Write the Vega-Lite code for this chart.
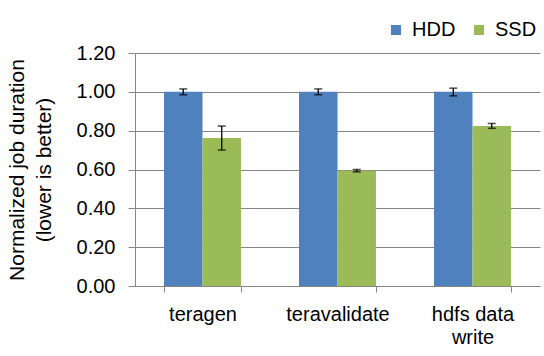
{
  "$schema": "https://vega.github.io/schema/vega-lite/v6.json",
  "autosize": {"type": "none"},
  "width": 405,
  "height": 233,
  "padding": {"left": 135, "top": 53, "right": 4, "bottom": 70},
  "background": "white",
  "config": {
    "font": "Liberation Sans",
    "view": {"stroke": null},
    "axis": {"labelFont": "Liberation Sans", "titleFont": "Liberation Sans", "labelColor": "black", "titleColor": "black"},
    "axisY": {
      "values": [0, 0.2, 0.4, 0.6, 0.8, 1.0, 1.2], "format": ".2f", "labelOverlap": false,
      "titleFontSize": 21, "titleFontWeight": "normal", "titleLineHeight": 27, "titlePadding": 22,
      "labelFontSize": 20, "labelPadding": 13,
      "domainColor": "#868686", "tickColor": "#868686", "tickSize": 7,
      "grid": true, "gridColor": "#868686", "gridWidth": 1
    }
  },
  "data": {
    "values": [
      {"task": "teragen", "disk": "HDD", "value": 1.0, "lo": 0.985, "hi": 1.015},
      {"task": "teragen", "disk": "SSD", "value": 0.762, "lo": 0.70, "hi": 0.824},
      {"task": "teravalidate", "disk": "HDD", "value": 1.0, "lo": 0.985, "hi": 1.015},
      {"task": "teravalidate", "disk": "SSD", "value": 0.594, "lo": 0.588, "hi": 0.600},
      {"task": "hdfs data write", "disk": "HDD", "value": 1.0, "lo": 0.979, "hi": 1.019},
      {"task": "hdfs data write", "disk": "SSD", "value": 0.824, "lo": 0.812, "hi": 0.837}
    ]
  },
  "encoding": {
    "x": {
      "field": "task", "type": "nominal", "sort": null,
      "scale": {"paddingInner": 0.43, "paddingOuter": 0.215},
      "axis": {
        "title": null, "labelAngle": 0, "labelFontSize": 20, "labelPadding": 12,
        "labelLineHeight": 23,
        "labelExpr": "datum.value == 'hdfs data write' ? ['hdfs data', 'write'] : datum.label",
        "domainColor": "#868686", "tickColor": "#868686", "tickSize": 6, "tickBand": "extent",
        "grid": false
      }
    },
    "xOffset": {"field": "disk", "type": "nominal", "sort": ["HDD", "SSD"], "scale": {"paddingInner": 0, "paddingOuter": 0}}
  },
  "layer": [
    {
      "mark": {"type": "bar"},
      "encoding": {
        "y": {
          "field": "value", "type": "quantitative",
          "scale": {"domain": [0, 1.2], "nice": false},
          "axis": {"title": ["Normalized job duration", "(lower is better)"], "values": [0, 0.2, 0.4, 0.6, 0.8, 1.0, 1.2]}
        },
        "color": {
          "field": "disk", "type": "nominal",
          "scale": {"domain": ["HDD", "SSD"], "range": ["#4F81BD", "#9BBB59"]},
          "legend": {
            "title": null, "orient": "none", "direction": "horizontal",
            "legendX": 251, "legendY": -33,
            "symbolType": "square", "symbolSize": 100, "symbolStrokeWidth": 0,
            "labelFontSize": 20, "labelOffset": 6, "columnPadding": 13, "labelColor": "black"
          }
        }
      }
    },
    {
      "mark": {"type": "rule", "color": "black", "strokeWidth": 1.3},
      "encoding": {"y": {"field": "lo", "type": "quantitative", "axis": {"title": ["Normalized job duration", "(lower is better)"], "values": [0, 0.2, 0.4, 0.6, 0.8, 1.0, 1.2]}}, "y2": {"field": "hi"}}
    },
    {
      "mark": {"type": "tick", "color": "black", "size": 8, "thickness": 1.5},
      "encoding": {"y": {"field": "lo", "type": "quantitative", "axis": {"title": ["Normalized job duration", "(lower is better)"], "values": [0, 0.2, 0.4, 0.6, 0.8, 1.0, 1.2]}}}
    },
    {
      "mark": {"type": "tick", "color": "black", "size": 8, "thickness": 1.5},
      "encoding": {"y": {"field": "hi", "type": "quantitative", "axis": {"title": ["Normalized job duration", "(lower is better)"], "values": [0, 0.2, 0.4, 0.6, 0.8, 1.0, 1.2]}}}
    }
  ]
}
